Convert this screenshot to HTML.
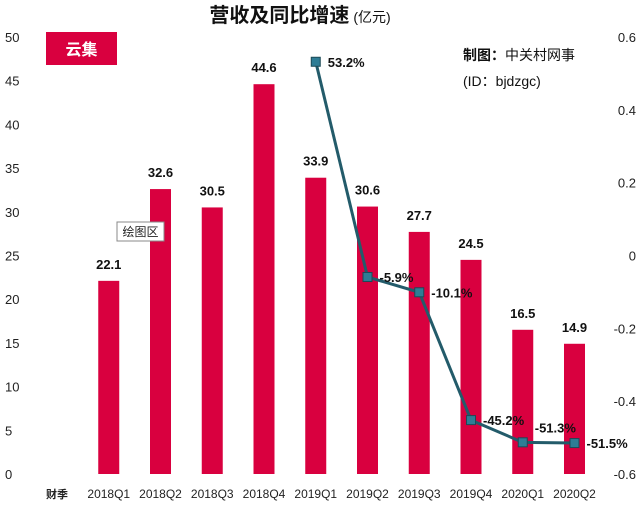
<!DOCTYPE html>
<html><head><meta charset="utf-8">
<style>
html,body{margin:0;padding:0;background:#fff;}
svg{display:block;font-family:"Liberation Sans","Noto Sans CJK SC",sans-serif;}
</style></head>
<body>
<svg id="chart" width="642" height="508" viewBox="0 0 642 508">
  <text x="300" y="22" text-anchor="middle" font-size="20" font-weight="bold" fill="#111">营收及同比增速<tspan font-size="14" font-weight="normal" dx="4">(亿元)</tspan></text>
  <rect x="46" y="32" width="71" height="33" fill="#d9003f"/>
  <text x="81.5" y="55" text-anchor="middle" font-size="16" fill="#fff" font-weight="bold">云集</text>
  <text x="463" y="60" font-size="14" fill="#111"><tspan font-weight="bold">制图：</tspan>中关村网事</text>
  <text x="463" y="86" font-size="14" fill="#111">(ID：bjdzgc)</text>
  <g id="axes"></g>
  <g id="bars"></g>
  <g id="line"></g>
  <rect x="117" y="222" width="47" height="19" fill="#fff" stroke="#888" stroke-width="1"/>
  <text x="140.5" y="236" text-anchor="middle" font-size="12" fill="#222">绘图区</text>
</svg>
<script>
const categories = ["财季","2018Q1","2018Q2","2018Q3","2018Q4","2019Q1","2019Q2","2019Q3","2019Q4","2020Q1","2020Q2"];
const revenue = [null,22.1,32.6,30.5,44.6,33.9,30.6,27.7,24.5,16.5,14.9];
const growth = [null,null,null,null,null,0.532,-0.059,-0.101,-0.452,-0.513,-0.515];
const growthLabels = ["","","","","","53.2%","-5.9%","-10.1%","-45.2%","-51.3%","-51.5%"];
const leftTicks = [0,5,10,15,20,25,30,35,40,45,50];
const rightTicks = [0.6,0.4,0.2,0,-0.2,-0.4,-0.6];

const NS="http://www.w3.org/2000/svg";
const plotTop=37, plotBottom=474;
const xPos = i => 57 + i*51.75;
const yL = v => plotBottom - v/50*(plotBottom-plotTop);
const yR = v => plotBottom - (v+0.6)/1.2*(plotBottom-plotTop);
function mk(tag, attrs, parent, txt){
  const e=document.createElementNS(NS,tag);
  for(const k in attrs) e.setAttribute(k,attrs[k]);
  if(txt!==undefined) e.textContent=txt;
  parent.appendChild(e); return e;
}
const axes=document.getElementById('axes'), bars=document.getElementById('bars'), line=document.getElementById('line');
leftTicks.forEach(v=>{
  const t=mk('text',{x:5,y:yL(v)+5,'font-size':13,fill:'#222'},axes,String(v));
  
  
});
rightTicks.forEach(v=>{
  const t=mk('text',{x:636,y:yR(v)+5,'font-size':13,fill:'#222','text-anchor':'end'},axes,String(v));
  
  
});
categories.forEach((c,i)=>{
  const t=mk('text',{x:xPos(i),y:498,'font-size':i===0?11:12,fill:'#222','text-anchor':'middle','font-weight':i===0?'bold':'normal'},axes,c);
  
  
});
revenue.forEach((v,i)=>{
  if(v===null) return;
  const r=mk('rect',{x:xPos(i)-10.5,y:yL(v),width:21,height:plotBottom-yL(v),fill:'#d9003f'},bars);
  
  
  const t=mk('text',{x:xPos(i),y:yL(v)-12,'font-size':13,'font-weight':'bold',fill:'#111','text-anchor':'middle'},bars,v.toFixed(1));
  
  
});
const pts=[];
growth.forEach((v,i)=>{ if(v!==null) pts.push([xPos(i),yR(v),i]); });
const pl=mk('polyline',{points:pts.map(p=>p[0]+','+p[1]).join(' '),fill:'none',stroke:'#235b6a','stroke-width':3},line);


pts.forEach(p=>{
  const m=mk('rect',{x:p[0]-4.5,y:p[1]-4.5,width:9,height:9,fill:'#2e7d95',stroke:'#1c4a57','stroke-width':1},line);
  
  
  const dy = (p[2]===9) ? -10 : 5;
  const t=mk('text',{x:p[0]+12,y:p[1]+dy,'font-size':13,'font-weight':'bold',fill:'#111'},line,growthLabels[p[2]]);
  
  
});
</script>
</body></html>
